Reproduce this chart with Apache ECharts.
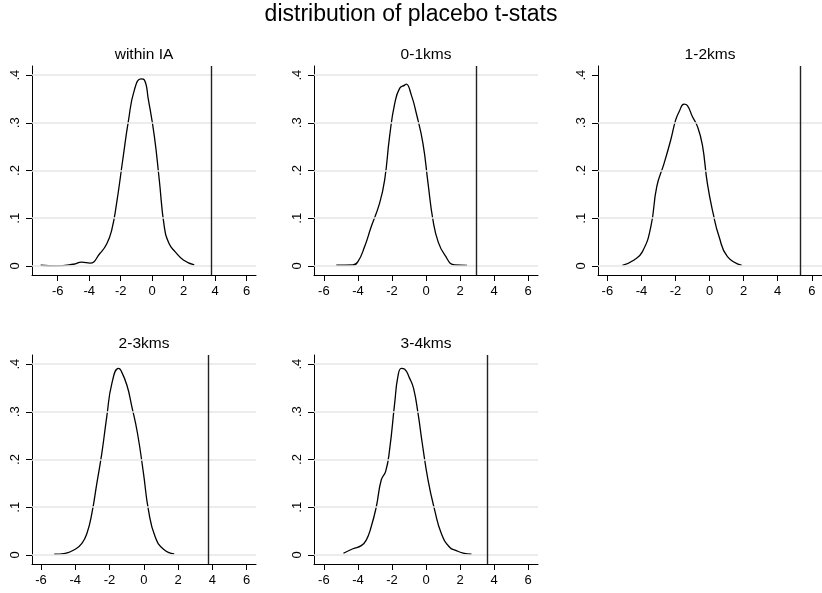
<!DOCTYPE html>
<html>
<head>
<meta charset="utf-8">
<title>distribution of placebo t-stats</title>
<script src="https://cdn.jsdelivr.net/npm/echarts@6/dist/echarts.min.js"></script>
<style>
  html, body { margin: 0; padding: 0; background: #fff; }
  #chart { width: 822px; height: 593px; }
</style>
</head>
<body>
<div id="chart"></div>
<script>
// panel titles
var panelNames = ["within IA", "0-1kms", "1-2kms", "2-3kms", "3-4kms"];

// kernel density curves
var iaX = [-7.08, -6.06, -5.0, -4.48, -3.95, -3.31, -2.89, -2.57, -2.26, -1.87, -1.51, -1.13, -0.71, -0.5, -0.24, 0.14, 0.45, 0.77, 1.07, 1.45, 1.98, 2.67];
var iaY = [0.0014, 0, 0.0035, 0.008, 0.006, 0.0265, 0.046, 0.075, 0.131, 0.222, 0.304, 0.369, 0.392, 0.39, 0.348, 0.271, 0.18, 0.082, 0.047, 0.03, 0.0126, 0.002];

var km01X = [-5.27, -4.29, -4.0, -3.61, -3.22, -2.73, -2.43, -2.14, -1.84, -1.55, -1.25, -1.16, -0.86, -0.57, -0.18, 0.12, 0.41, 0.71, 1.10, 1.69, 2.41];
var km01Y = [0.0014, 0.002, 0.009, 0.04, 0.082, 0.131, 0.18, 0.271, 0.34, 0.372, 0.379, 0.381, 0.358, 0.32, 0.257, 0.173, 0.096, 0.051, 0.023, 0.002, 0.001];

var km12X = [-5.12, -4.43, -3.94, -3.45, -3.10, -2.67, -2.28, -1.99, -1.79, -1.50, -1.30, -1.01, -0.71, -0.42, -0.13, 0.21, 0.56, 1.05, 1.89];
var km12Y = [0.0014, 0.0126, 0.03, 0.082, 0.166, 0.215, 0.264, 0.306, 0.323, 0.339, 0.336, 0.313, 0.292, 0.253, 0.173, 0.11, 0.061, 0.0195, 0.0014];

var km23X = [-5.22, -4.58, -4.0, -3.61, -3.32, -3.03, -2.74, -2.45, -2.16, -1.86, -1.48, -1.34, -0.99, -0.70, -0.37, -0.02, 0.27, 0.66, 1.15, 1.77];
var km23Y = [0.0014, 0.0035, 0.012, 0.024, 0.045, 0.087, 0.15, 0.213, 0.29, 0.36, 0.391, 0.387, 0.356, 0.311, 0.255, 0.171, 0.094, 0.038, 0.012, 0.002];

var km34X = [-4.85, -4.29, -3.80, -3.51, -3.22, -2.92, -2.63, -2.37, -2.14, -1.84, -1.65, -1.45, -1.25, -0.96, -0.73, -0.47, -0.22, 0.12, 0.51, 0.90, 1.39, 1.78, 2.18, 2.67];
var km34Y = [0.0035, 0.013, 0.0195, 0.031, 0.059, 0.101, 0.157, 0.175, 0.22, 0.318, 0.374, 0.391, 0.389, 0.370, 0.349, 0.297, 0.234, 0.157, 0.094, 0.045, 0.016, 0.009, 0.004, 0.0014];

// actual t-stat (vertical line) per panel
var actualT = [3.73, 2.97, 5.32, 3.73, 3.57];

// tick labels
var xTicks = [-6, -4, -2, 0, 2, 4, 6];
var yTicks = [0, 0.1, 0.2, 0.3, 0.4];

var curvesX = [iaX, km01X, km12X, km23X, km34X];
var curvesY = [iaY, km01Y, km12Y, km23Y, km34Y];

// layout of the five plot regions (pixels) and x ranges
var boxes = [
  { left: 32,  top: 66,  xmin: -7.63, xmax: 6.59, grid: yTicks },
  { left: 314, top: 66,  xmin: -6.58, xmax: 6.58, grid: yTicks },
  { left: 598, top: 66,  xmin: -6.55, xmax: 6.6,  grid: [0, 0.1, 0.2, 0.3] },
  { left: 32,  top: 355, xmin: -6.52, xmax: 6.54, grid: yTicks },
  { left: 314, top: 355, xmin: -6.58, xmax: 6.58, grid: yTicks }
];
var W = 224, H = 209;
var FONT = "'Liberation Sans', Arial, Helvetica, sans-serif";

var chart = echarts.init(document.getElementById('chart'));

var titles = [{
  text: 'distribution of placebo t-stats',
  left: 'center',
  top: 3,
  padding: 0,
  textStyle: { fontFamily: FONT, fontSize: 23, fontWeight: 'normal', color: '#000' }
}];
var grids = [], xAxes = [], yAxes = [], series = [];

boxes.forEach(function (b, i) {
  titles.push({
    text: panelNames[i],
    left: b.left + W / 2,
    top: b.top - 19,
    padding: 0,
    textAlign: 'center',
    textStyle: { fontFamily: FONT, fontSize: 15.5, fontWeight: 'normal', color: '#000' }
  });
  grids.push({ left: b.left, top: b.top, width: W, height: H, containLabel: false });
  xAxes.push({
    type: 'value', gridIndex: i, min: b.xmin, max: b.xmax, position: 'bottom',
    axisLine: { onZero: false, lineStyle: { color: '#000', width: 1 } },
    axisTick: { length: 6, customValues: xTicks, lineStyle: { color: '#000' } },
    axisLabel: { customValues: xTicks, margin: 10, fontFamily: FONT, fontSize: 13, color: '#000' },
    splitLine: { show: false }
  });
  yAxes.push({
    type: 'value', gridIndex: i, min: -0.019, max: 0.419, position: 'left',
    axisLine: { show: true, onZero: false, lineStyle: { color: '#000', width: 1 } },
    axisTick: { show: true, length: 6, customValues: yTicks, lineStyle: { color: '#000' } },
    axisLabel: {
      customValues: yTicks, rotate: 90, margin: 10, fontFamily: FONT, fontSize: 13, color: '#000',
      formatter: function (v) { return v === 0 ? '0' : String(+v.toFixed(1)).replace('0.', '.'); }
    },
    splitLine: { show: false }
  });
  // light horizontal gridlines
  series.push({
    type: 'line', xAxisIndex: i, yAxisIndex: i, data: [], z: 1, silent: true,
    markLine: {
      silent: true, symbol: 'none', label: { show: false }, animation: false,
      lineStyle: { color: '#e6e6e6', width: 1.5, type: 'solid' },
      data: b.grid.map(function (v) { return { yAxis: v }; })
    }
  });
  // density curve + actual t-stat line
  series.push({
    type: 'line', xAxisIndex: i, yAxisIndex: i, z: 3,
    data: curvesX[i].map(function (x, k) { return [x, curvesY[i][k]]; }),
    smooth: 0.5, showSymbol: false, animation: false,
    lineStyle: { color: '#000', width: 1.3 },
    markLine: {
      silent: true, symbol: 'none', label: { show: false }, animation: false,
      lineStyle: { color: '#222', width: 1.4, type: 'solid' },
      data: [{ xAxis: actualT[i] }]
    }
  });
});

chart.setOption({
  backgroundColor: '#fff',
  animation: false,
  title: titles,
  grid: grids,
  xAxis: xAxes,
  yAxis: yAxes,
  series: series
});

window.addEventListener('resize', function () { chart.resize(); });
</script>
</body>
</html>
